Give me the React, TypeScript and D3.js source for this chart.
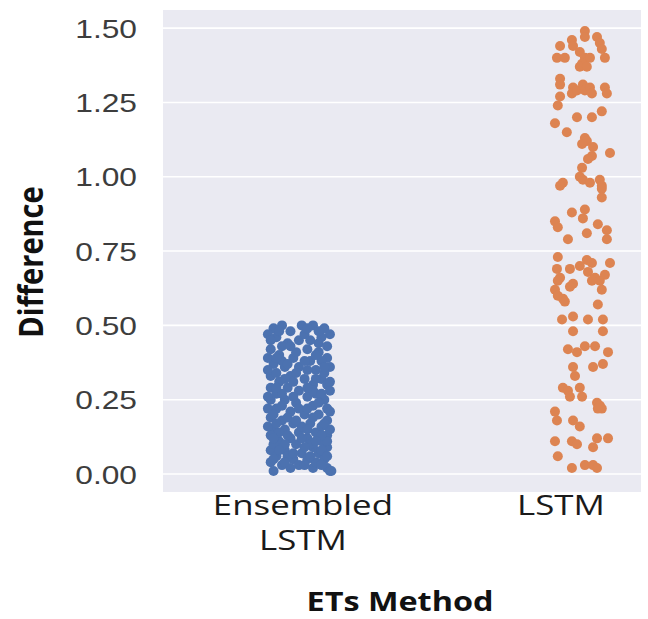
import React from "react";
import * as d3 from "d3";

// Categories and axis ticks
const categories = ["Ensembled\nLSTM", "LSTM"];
const yTicks = [0, 0.25, 0.5, 0.75, 1.0, 1.25, 1.5];

// Strip-plot points: [jitter (category units), value]
const ensembledPoints: [number, number][] = [
  [-0.09, 0.49], [-0.06, 0.5], [-0.03, 0.48], [0.01, 0.5], [0.05, 0.5], [0.09, 0.49], [0.11, 0.47],
  [-0.08, 0.46], [0.08, 0.46], [-0.04, 0.44], [0.0, 0.45], [-0.1, 0.42], [-0.07, 0.4], [0.03, 0.42],
  [0.07, 0.41], [0.1, 0.39], [-0.02, 0.39], [0.04, 0.38], [-0.09, 0.37], [-0.05, 0.36], [0.0, 0.36],
  [0.06, 0.35], [0.11, 0.36], [-0.1, 0.33], [-0.03, 0.33], [0.02, 0.32], [0.08, 0.32], [-0.07, 0.31],
  [0.05, 0.3], [0.1, 0.3], [-0.1, 0.29], [-0.04, 0.29], [0.0, 0.28], [-0.08, 0.27], [0.06, 0.27],
  [0.03, 0.26], [-0.1, 0.25], [-0.05, 0.25], [0.09, 0.25], [-0.01, 0.24], [0.05, 0.23], [-0.08, 0.22],
  [0.1, 0.22], [-0.03, 0.21], [0.02, 0.2], [0.07, 0.2], [-0.1, 0.19], [-0.06, 0.18], [0.1, 0.18],
  [-0.02, 0.17], [0.04, 0.17], [-0.09, 0.15], [-0.05, 0.15], [0.0, 0.14], [0.06, 0.14], [0.1, 0.13],
  [-0.1, 0.13], [-0.03, 0.12], [0.03, 0.12], [0.08, 0.11], [-0.07, 0.11], [-0.01, 0.1], [0.05, 0.09],
  [0.1, 0.09], [-0.1, 0.08], [-0.05, 0.08], [0.01, 0.07], [0.07, 0.07], [-0.08, 0.06], [-0.02, 0.05],
  [0.03, 0.05], [0.09, 0.05], [-0.1, 0.04], [-0.06, 0.03], [0.0, 0.03], [0.05, 0.02], [0.1, 0.02],
  [-0.09, 0.01], [0.11, 0.01],
  [-0.11, 0.47], [0.02, 0.47], [0.07, 0.44], [-0.06, 0.43], [0.1, 0.43], [-0.01, 0.41], [-0.11, 0.39],
  [0.08, 0.38], [-0.06, 0.38], [0.03, 0.35], [-0.08, 0.34], [0.09, 0.34], [-0.02, 0.31], [0.11, 0.28],
  [0.05, 0.28], [-0.06, 0.27], [-0.11, 0.22], [0.0, 0.22], [0.08, 0.16], [0.01, 0.16], [-0.07, 0.14],
  [0.04, 0.1], [-0.09, 0.1], [0.1, 0.11], [-0.04, 0.06], [0.06, 0.04], [-0.03, 0.02], [0.115, 0.01],
  [-0.11, 0.16], [0.11, 0.15],
  [-0.07, 0.48], [0.03, 0.49], [0.07, 0.48], [-0.1, 0.45], [0.04, 0.45], [-0.03, 0.43], [0.06, 0.4],
  [-0.08, 0.39], [0.02, 0.38], [-0.04, 0.37], [0.09, 0.36], [-0.11, 0.35], [-0.01, 0.34], [0.06, 0.32],
  [-0.05, 0.32], [0.11, 0.31], [-0.08, 0.29], [0.03, 0.29], [0.08, 0.27], [-0.02, 0.26], [-0.11, 0.26],
  [0.07, 0.24], [-0.06, 0.23], [0.03, 0.22], [0.11, 0.21], [-0.09, 0.2], [-0.04, 0.19], [0.05, 0.19],
  [-0.01, 0.18], [0.09, 0.17], [-0.08, 0.17], [0.03, 0.15], [-0.04, 0.13], [0.08, 0.13], [0.01, 0.12],
  [-0.09, 0.12], [0.06, 0.11], [-0.05, 0.1], [0.02, 0.09], [-0.07, 0.08], [0.08, 0.08], [-0.02, 0.07],
  [0.04, 0.06], [-0.09, 0.05], [0.1, 0.06], [-0.05, 0.04], [0.02, 0.03], [0.08, 0.03],
];

const lstmPoints: [number, number][] = [
  [0.014, 1.49], [0.014, 1.47], [-0.032, 1.46], [-0.028, 1.44], [-0.074, 1.44], [0.057, 1.47],
  [0.067, 1.45], [0.074, 1.43], [-0.085, 1.4], [-0.057, 1.4], [-0.004, 1.42], [0.014, 1.4],
  [0.032, 1.4], [0.085, 1.4], [0.004, 1.38], [-0.004, 1.37], [0.021, 1.37], [-0.074, 1.33],
  [-0.074, 1.31], [-0.028, 1.3], [-0.032, 1.28], [-0.014, 1.29], [0.007, 1.31], [0.014, 1.29],
  [0.032, 1.3], [0.039, 1.28], [0.085, 1.3], [0.092, 1.28], [-0.074, 1.27], [-0.082, 1.24],
  [0.074, 1.22], [0.039, 1.2], [-0.014, 1.2], [-0.092, 1.18], [-0.05, 1.15], [0.014, 1.13],
  [0.021, 1.12], [0.004, 1.11], [0.043, 1.1], [0.103, 1.08], [0.039, 1.07], [0.025, 1.06],
  [0.004, 1.03], [-0.004, 1.0], [0.007, 0.99], [0.032, 0.98], [0.067, 0.99], [0.074, 0.97],
  [0.074, 0.96], [-0.064, 0.98], [-0.074, 0.97], [0.074, 0.93], [0.014, 0.89], [0.007, 0.86],
  [-0.032, 0.88], [-0.092, 0.85], [-0.082, 0.83], [0.06, 0.84], [0.092, 0.82], [0.021, 0.81],
  [-0.046, 0.79], [0.092, 0.79],
  [-0.082, 0.73], [-0.085, 0.69], [-0.074, 0.66], [-0.082, 0.65], [-0.039, 0.69], [-0.004, 0.7],
  [0.021, 0.72], [0.039, 0.71], [0.103, 0.71], [0.025, 0.68], [0.05, 0.66], [0.085, 0.67],
  [0.067, 0.65], [0.039, 0.65], [-0.028, 0.64], [-0.039, 0.63], [-0.092, 0.62], [-0.082, 0.6],
  [-0.064, 0.59], [-0.057, 0.58], [0.074, 0.62], [0.06, 0.57], [-0.067, 0.52], [-0.028, 0.53],
  [0.025, 0.52], [0.078, 0.52], [-0.028, 0.48], [0.078, 0.48], [-0.046, 0.42], [-0.014, 0.41],
  [0.014, 0.43], [0.05, 0.43], [0.096, 0.41], [-0.028, 0.36], [-0.021, 0.33], [0.043, 0.36],
  [0.078, 0.37], [-0.064, 0.29], [-0.046, 0.28], [-0.004, 0.29], [0.004, 0.26], [-0.039, 0.26],
  [0.057, 0.24], [0.067, 0.23], [0.074, 0.22], [0.06, 0.22], [-0.092, 0.21], [-0.085, 0.18],
  [-0.028, 0.18], [-0.004, 0.16], [0.057, 0.12], [0.096, 0.12], [-0.092, 0.11], [-0.032, 0.11],
  [-0.014, 0.1], [0.043, 0.09], [-0.082, 0.06], [-0.032, 0.02], [0.014, 0.03], [0.043, 0.03],
  [0.057, 0.02],
];

const series = [
  { points: ensembledPoints, color: "#4c72b0" },
  { points: lstmPoints, color: "#dd8452" },
];

const W = 648;
const H = 619;
const plot = { left: 163, right: 641, top: 10, bottom: 492 };
const labelShift = [4, -20];
const sx = 1.27; // horizontal text stretch

export default function App() {
  const x = d3.scaleLinear().domain([-0.482, 1.213]).range([plot.left, plot.right]);
  const y = d3.scaleLinear().domain([-0.0605, 1.561]).range([plot.bottom, plot.top]);

  return (
    <svg
      width={W}
      height={H}
      style={{ position: "absolute", left: 0, top: 0, background: "#fff" }}
    >
      <rect
        x={plot.left}
        y={plot.top}
        width={plot.right - plot.left}
        height={plot.bottom - plot.top}
        fill="#eaeaf2"
      />
      {yTicks.map((t) => (
        <line
          key={"g" + t}
          x1={plot.left}
          x2={plot.right}
          y1={y(t)}
          y2={y(t)}
          stroke="#ffffff"
          strokeWidth={1.6}
        />
      ))}
      {series.map((s, i) =>
        s.points.map(([dx, v], j) => (
          <circle key={i + "-" + j} cx={x(i + dx)} cy={y(v)} r={5} fill={s.color} />
        ))
      )}
      {yTicks.map((t) => (
        <text
          key={"t" + t}
          transform={`translate(137,${y(t) + 9.5}) scale(${sx},1)`}
          textAnchor="end"
          fontFamily="'Liberation Sans', Arial, sans-serif"
          fontSize={25}
          fill="#3d3d3d"
        >
          {d3.format(".2f")(t)}
        </text>
      ))}
      {categories.map((c, i) =>
        c.split("\n").map((line, k) => (
          <text
            key={"c" + i + k}
            transform={`translate(${x(i) + labelShift[i]},${515 + k * 35}) scale(${sx * 0.98},1)`}
            textAnchor="middle"
            fontFamily="'Open Sans', sans-serif"
            fontSize={28}
            fill="#1a1a1a"
          >
            {line}
          </text>
        ))
      )}
      <text
        transform={`translate(400,611) scale(1.2,1)`}
        textAnchor="middle"
        fontFamily="'Open Sans', sans-serif"
        fontWeight="bold"
        fontSize={27}
        fill="#111"
      >
        ETs Method
      </text>
      <text
        transform={`translate(43,262) rotate(-90) scale(1,1.15)`}
        textAnchor="middle"
        fontFamily="'Open Sans', sans-serif"
        fontWeight="bold"
        fontSize={29}
        fill="#111"
      >
        Difference
      </text>
    </svg>
  );
}
